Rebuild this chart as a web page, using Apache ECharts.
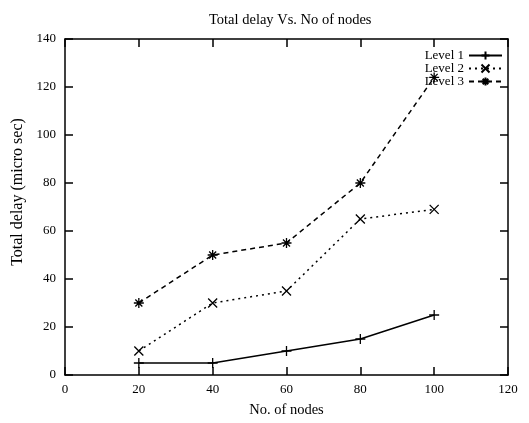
<!DOCTYPE html>
<html>
<head>
<meta charset="utf-8">
<script src="https://cdn.jsdelivr.net/npm/echarts@6/dist/echarts.min.js"></script>
<style>
  html, body { margin: 0; padding: 0; background: #fff; }
  #delayChart { width: 529px; height: 423px; }
</style>
</head>
<body>
<div id="delayChart"></div>
<script>
// data
var nodes = [20, 40, 60, 80, 100];
var level1 = [5, 5, 10, 15, 25];
var level2 = [10, 30, 35, 65, 69];
var level3 = [30, 50, 55, 80, 124];

var FONT = 'Liberation Serif';
var plusPath = 'path://M0,5L10,5M5,0L5,10';
var crossPath = 'path://M1,1L9,9M9,1L1,9';
var starPath = 'path://M0,5L10,5M5,0L5,10M1.5,1.5L8.5,8.5M8.5,1.5L1.5,8.5';

function pairs(ys) {
  return nodes.map(function (x, i) { return [x, ys[i]]; });
}

function makeSeries(name, ys, symbol, size, lineType) {
  return {
    name: name,
    type: 'line',
    data: pairs(ys),
    symbol: symbol,
    symbolSize: size,
    showAllSymbol: true,
    itemStyle: { color: '#000', borderColor: '#000', borderWidth: 1.3 },
    lineStyle: { color: '#000', width: 1.5, type: lineType },
    animation: false
  };
}

var axisLineStyle = { color: '#000', width: 1.5 };

var myChart = echarts.init(document.getElementById('delayChart'));
myChart.setOption({
  backgroundColor: '#fff',
  textStyle: { fontFamily: FONT },
  title: {
    text: 'Total delay Vs. No of nodes',
    left: 204,
    top: 8,
    textStyle: { fontFamily: FONT, fontSize: 14.5, fontWeight: 'normal', color: '#000' }
  },
  legend: {
    right: 21,
    top: 44,
    orient: 'vertical',
    align: 'right',
    itemGap: 0,
    itemWidth: 33,
    itemHeight: 10,
    textStyle: { fontFamily: FONT, fontSize: 13, color: '#000' },
    data: ['Level 1', 'Level 2', 'Level 3']
  },
  grid: { left: 65, right: 21, top: 39, bottom: 48 },
  xAxis: [
    {
      type: 'value',
      min: 0,
      max: 120,
      interval: 20,
      name: 'No. of nodes',
      nameLocation: 'middle',
      nameGap: 28,
      nameTextStyle: { fontFamily: FONT, fontSize: 14.5, color: '#000' },
      axisLine: { onZero: false, lineStyle: axisLineStyle },
      axisTick: { inside: true, length: 8, lineStyle: axisLineStyle },
      axisLabel: { color: '#000', fontSize: 13, margin: 8, fontFamily: FONT },
      splitLine: { show: false }
    },
    {
      type: 'value',
      position: 'top',
      min: 0,
      max: 120,
      interval: 20,
      axisLine: { show: true, onZero: false, lineStyle: axisLineStyle },
      axisTick: { show: true, inside: true, length: 8, lineStyle: axisLineStyle },
      axisLabel: { show: false },
      splitLine: { show: false }
    }
  ],
  yAxis: [
    {
      type: 'value',
      min: 0,
      max: 140,
      interval: 20,
      name: 'Total delay (micro sec)',
      nameLocation: 'middle',
      nameGap: 35,
      nameTextStyle: { fontFamily: FONT, fontSize: 16, color: '#000', padding: [0, 0, 0, 30] },
      axisLine: { show: true, onZero: false, lineStyle: axisLineStyle },
      axisTick: { show: true, inside: true, length: 8, lineStyle: axisLineStyle },
      axisLabel: { color: '#000', fontSize: 13, margin: 9, fontFamily: FONT },
      splitLine: { show: false }
    },
    {
      type: 'value',
      position: 'right',
      min: 0,
      max: 140,
      interval: 20,
      axisLine: { show: true, onZero: false, lineStyle: axisLineStyle },
      axisTick: { show: true, inside: true, length: 8, lineStyle: axisLineStyle },
      axisLabel: { show: false },
      splitLine: { show: false }
    }
  ],
  series: [
    makeSeries('Level 1', level1, plusPath, 10, 'solid'),
    makeSeries('Level 2', level2, crossPath, 9, [2, 4]),
    makeSeries('Level 3', level3, starPath, 10, [5, 4])
  ]
});
</script>
</body>
</html>
